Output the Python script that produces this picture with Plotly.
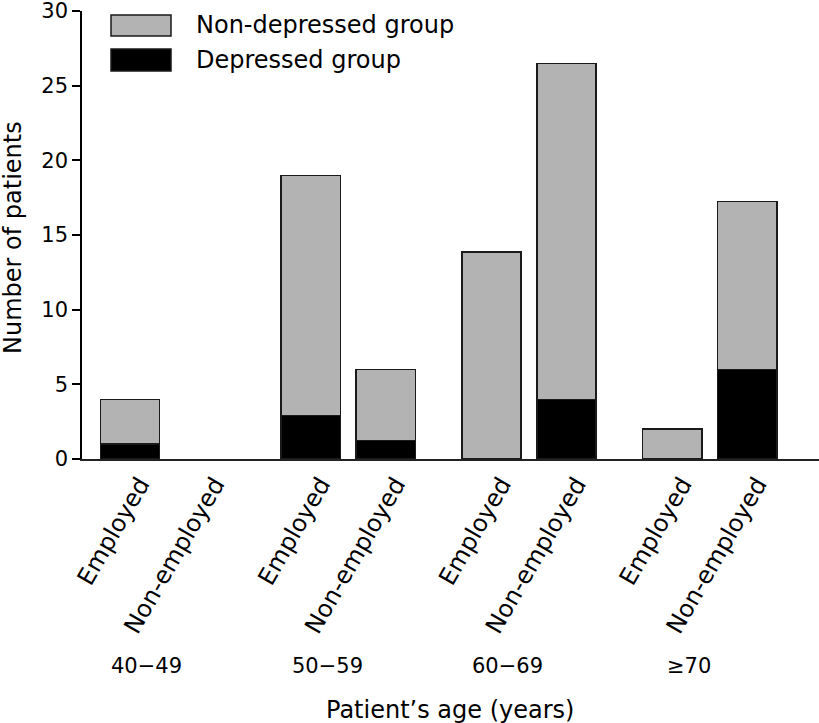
import plotly.graph_objects as go

# ---- data ----
age_groups = ["40\u221249", "50\u221259", "60\u221269", "\u226570"]
employment = ["Employed", "Non-employed"]
depressed = [1, None, 2.9, 1.25, None, 4, None, 6]
non_depressed = [3, None, 16.1, 4.75, 13.85, 22.5, 2, 11.25]
y_ticks = [0, 5, 10, 15, 20, 25, 30]

# ---- layout helpers ----
GROUP_STEP = 2.41
x_pos = [g * GROUP_STEP + s for g in range(len(age_groups)) for s in range(len(employment))]
cat_labels = [e for _ in age_groups for e in employment]
FONT = "DejaVu Sans"

# plot area in pixels
L, R, T, B = 82, 0, 11, 264
W, H = 819, 723
pw, ph = W - L - R, H - T - B

def px(xp):
    return (xp - L) / pw

def py(yp):
    return (H - B - yp) / ph

fig = go.Figure()
fig.add_trace(go.Bar(x=x_pos, y=depressed, name="Depressed group", width=0.79,
                     marker=dict(color="#000000", line=dict(color="#1a1a1a", width=1.5))))
fig.add_trace(go.Bar(x=x_pos, y=non_depressed, name="Non-depressed group", width=0.79,
                     marker=dict(color="#b3b3b3", line=dict(color="#1a1a1a", width=1.5))))

annotations = []
# group labels
for g, lab in enumerate(age_groups):
    annotations.append(dict(x=g * GROUP_STEP + 0.22, y=py(666), xref="x", yref="paper",
                            text=lab, showarrow=False, font=dict(family=FONT, size=21, color="black"),
                            xanchor="center", yanchor="middle"))
# axis titles
annotations.append(dict(x=px(450), y=py(710), xref="paper", yref="paper", text="Patient\u2019s age (years)",
                        showarrow=False, font=dict(family=FONT, size=24, color="black"),
                        xanchor="center", yanchor="middle"))
annotations.append(dict(x=px(13), y=py(238), xref="paper", yref="paper", text="Number of patients",
                        textangle=-90, showarrow=False, font=dict(family=FONT, size=24, color="black"),
                        xanchor="center", yanchor="middle"))
# manual legend
legend_items = [("Non-depressed group", "#b3b3b3", 15, 36), ("Depressed group", "#000000", 49, 71)]
shapes = []
for text, col, y0, y1 in legend_items:
    shapes.append(dict(type="rect", xref="paper", yref="paper", x0=px(111), x1=px(171),
                       y0=py(y1), y1=py(y0), fillcolor=col, line=dict(color="#1a1a1a", width=1.5)))
    annotations.append(dict(x=px(194), y=py((y0 + y1) / 2), xref="paper", yref="paper", text=text,
                            showarrow=False, font=dict(family=FONT, size=24, color="black"),
                            xanchor="left", yanchor="middle"))

fig.update_layout(
    barmode="stack",
    width=W, height=H,
    margin=dict(l=L, r=R, t=T, b=B),
    plot_bgcolor="white", paper_bgcolor="white",
    showlegend=False,
    font=dict(family=FONT, color="black"),
    annotations=annotations,
    shapes=shapes,
)
fig.update_xaxes(range=[-0.639, 9.188], tickvals=x_pos, ticktext=cat_labels, tickangle=-60,
                 tickfont=dict(family=FONT, size=24, color="black"), ticks="", ticklabelshift=10,
                 showline=True, linecolor="#222222", linewidth=1.5, showgrid=False, zeroline=False)
fig.update_yaxes(range=[0, 30], tickvals=y_ticks, ticks="outside", ticklen=8, tickwidth=1.5,
                 tickcolor="black", tickfont=dict(family=FONT, size=21, color="black"),
                 ticklabeloverflow="allow",
                 showline=True, linecolor="black", linewidth=1.5, showgrid=False, zeroline=False)

fig.write_html("out.html", config={"displayModeBar": False},
               post_script="document.body.style.margin='0px';")
